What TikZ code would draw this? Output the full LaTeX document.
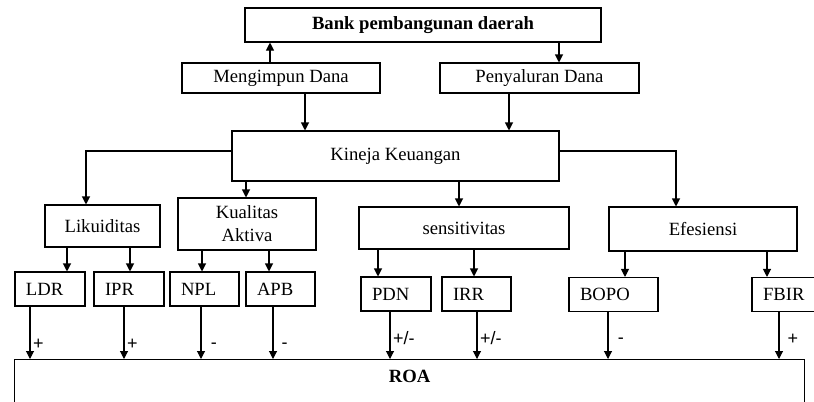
\documentclass[tikz,border=0pt]{standalone}
\usepackage{fontspec}
\setmainfont{Liberation Serif}
\newfontfamily\signfont{Liberation Sans}
\usepackage{tikz}
\usetikzlibrary{arrows.meta,positioning}
\tikzstyle{arrow} = [-{Triangle[length=6pt,width=6pt]},line width=0.8pt]
\tikzstyle{box} = [draw, line width=0.8pt, inner sep=0pt, font=\fontsize{14}{17.25}\selectfont]
\tikzstyle{leaf} = [box, minimum height=25.5pt, inner xsep=8.25pt, align=left]
\tikzstyle{sign} = [right, inner sep=2pt, font=\signfont\fontsize{13.5}{15}\selectfont]

\begin{document}
\begin{tikzpicture}[x=0.75pt, y=-0.75pt]
    \clip (0,0) rectangle (814,401);

    % top level
    \node[box, minimum width=267pt, minimum height=25.5pt] (bank) at (423,25) {\bfseries Bank pembangunan daerah};
    \node[box, minimum width=148.5pt, minimum height=22.5pt] (meng) at (281,78) {Mengimpun Dana};
    \node[box, minimum width=149.25pt, minimum height=22.5pt] (peny) at (539.5,78) {Penyaluran Dana};
    \node[box, minimum width=245.25pt, minimum height=37.5pt] (kin) at (395.5,156) {Kineja Keuangan};

    % groups
    \node[box, minimum width=86.25pt, minimum height=31.5pt] (liq) at (102.5,226) {Likuiditas};
    \node[box, minimum width=103.5pt, minimum height=39pt, align=center] (kua) at (247,224) {Kualitas\\Aktiva};
    \node[box, minimum width=157.5pt, minimum height=31.5pt] (sen) at (464,228) {sensitivitas};
    \node[box, minimum width=141pt, minimum height=33pt] (efe) at (703,229) {Efesiensi};

    % ratios
    \node[leaf, text width=36pt] (ldr) at (50,289) {LDR};
    \node[leaf, text width=36pt] (ipr) at (129,289) {IPR};
    \node[leaf, text width=35.25pt] (npl) at (204.5,289) {NPL};
    \node[leaf, text width=35.25pt] (apb) at (280.5,289) {APB};
    \node[leaf, text width=36pt] (pdn) at (396,294) {PDN};
    \node[leaf, text width=35.25pt] (irr) at (476.5,294) {IRR};
    \node[leaf, text width=50.25pt] (bopo) at (613.5,294.5) {BOPO};
    \node[leaf, text width=31.5pt] (fbir) at (784,294.5) {FBIR};

    \node[box, anchor=north west, minimum width=592.5pt, minimum height=45pt] (roa) at (14,359) {};
    \node[font=\fontsize{14}{17}\selectfont\bfseries] (roatxt) at (roa.north |- 0,376) {ROA};

    % connectors
    \draw[arrow] (meng.north -| 270,0) -- (bank.south -| 270,0);
    \draw[arrow] (bank.south -| 559,0) -- (peny.north -| 559,0);
    \draw[arrow] (meng.south -| 305,0) -- (kin.north -| 305,0);
    \draw[arrow] (peny.south -| 509,0) -- (kin.north -| 509,0);

    \draw[arrow] (kin.west |- 0,151) -| (liq.north -| 86,0);
    \draw[arrow] (kin.south -| 246,0) -- (kua.north -| 246,0);
    \draw[arrow] (kin.south -| 459,0) -- (sen.north -| 459,0);
    \draw[arrow] (kin.east |- 0,151) -| (efe.north -| 676,0);

    \draw[arrow] (liq.south -| 67,0) -- (ldr.north -| 67,0);
    \draw[arrow] (liq.south -| 130,0) -- (ipr.north -| 130,0);
    \draw[arrow] (kua.south -| 202,0) -- (npl.north -| 202,0);
    \draw[arrow] (kua.south -| 269,0) -- (apb.north -| 269,0);
    \draw[arrow] (sen.south -| 378,0) -- (pdn.north -| 378,0);
    \draw[arrow] (sen.south -| 474,0) -- (irr.north -| 474,0);
    \draw[arrow] (efe.south -| 625,0) -- (bopo.north -| 625,0);
    \draw[arrow] (efe.south -| 767,0) -- (fbir.north -| 767,0);

    \draw[arrow] (ldr.south -| 30,0) -- (roa.north -| 30,0) node[sign, pos=0.72] {+};
    \draw[arrow] (ipr.south -| 124,0) -- (roa.north -| 124,0) node[sign, pos=0.72] {+};
    \draw[arrow] (npl.south -| 201,0) -- (roa.north -| 201,0) node[sign, pos=0.75, xshift=5pt] {-};
    \draw[arrow] (apb.south -| 273,0) -- (roa.north -| 273,0) node[sign, pos=0.75, xshift=4pt] {-};
    \draw[arrow] (pdn.south -| 390,0) -- (roa.north -| 390,0) node[sign, pos=0.56] {+/-};
    \draw[arrow] (irr.south -| 477,0) -- (roa.north -| 477,0) node[sign, pos=0.56] {+/-};
    \draw[arrow] (bopo.south -| 608,0) -- (roa.north -| 608,0) node[sign, pos=0.62, xshift=5pt] {-};
    \draw[arrow] (fbir.south -| 779,0) -- (roa.north -| 779,0) node[sign, pos=0.58, xshift=4pt] {+};
\end{tikzpicture}
\end{document}
